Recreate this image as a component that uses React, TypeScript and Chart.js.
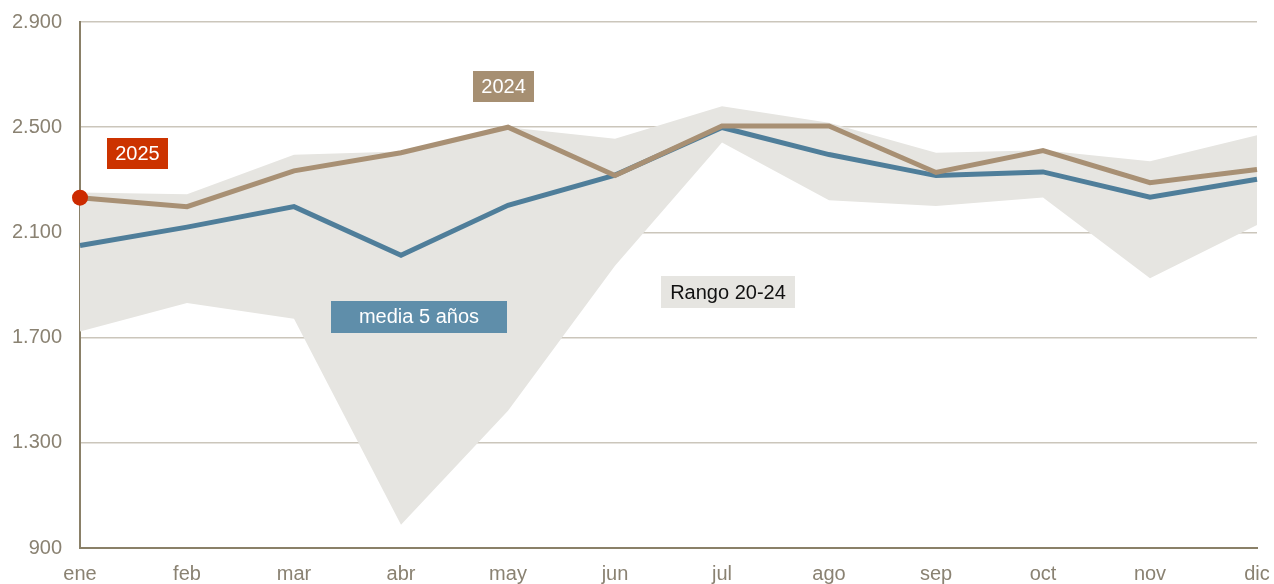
import React, { useEffect, useRef } from "react";
import { Chart, registerables } from "chart.js";

Chart.register(...registerables);

const months = ["ene", "feb", "mar", "abr", "may", "jun", "jul", "ago", "sep", "oct", "nov", "dic"];
const serie2025 = [2232, null, null, null, null, null, null, null, null, null, null, null];
const serie2024 = [2232, 2198, 2334, 2403, 2500, 2316, 2505, 2505, 2328, 2411, 2289, 2339];
const media5 = [2050, 2120, 2198, 2013, 2203, 2318, 2499, 2396, 2316, 2330, 2234, 2302];
const rangoMax = [2252, 2245, 2395, 2408, 2500, 2456, 2580, 2517, 2403, 2412, 2371, 2469];
const rangoMin = [1723, 1832, 1772, 988, 1422, 1973, 2442, 2222, 2200, 2233, 1926, 2128];
const yTicks = [900, 1300, 1700, 2100, 2500, 2900];

// text labels anchored in data coordinates (category index, value)
const labelTexts = ["2025", "2024", "media 5 años", "Rango 20-24"];
const labelAtX = [0.537, 3.958, 3.168, 6.056];
const labelAtY = [2400, 2655, 1780, 1873];

const labelStyles = [
  { bg: "#cc3300", color: "#ffffff", w: 61, h: 31 },
  { bg: "#a68f72", color: "#ffffff", w: 61, h: 31 },
  { bg: "#5f8eaa", color: "#ffffff", w: 176, h: 32 },
  { bg: "#e6e5e1", color: "#111111", w: 134, h: 32 },
];

const FONT = "Arial, 'Liberation Sans', sans-serif";

const fmt = (v: number) => {
  const s = String(Math.round(v));
  return s.length > 3 ? s.slice(0, s.length - 3) + "." + s.slice(-3) : s;
};

const labelPlugin = {
  id: "boxLabels",
  afterDatasetsDraw(chart: any) {
    const { ctx } = chart;
    const xs = chart.scales.x;
    const ys = chart.scales.y;
    ctx.save();
    ctx.font = `20px ${FONT}`;
    ctx.textAlign = "center";
    ctx.textBaseline = "middle";
    labelTexts.forEach((t, i) => {
      const st = labelStyles[i];
      const cx = xs.getPixelForValue(labelAtX[i]);
      const cy = ys.getPixelForValue(labelAtY[i]);
      ctx.fillStyle = st.bg;
      ctx.fillRect(Math.round(cx - st.w / 2), Math.round(cy - st.h / 2), st.w, st.h);
      ctx.fillStyle = st.color;
      ctx.fillText(t, cx, cy + 1);
    });
    ctx.restore();
  },
};

export default function App() {
  const ref = useRef<HTMLCanvasElement | null>(null);
  useEffect(() => {
    if (!ref.current) return;
    const chart = new Chart(ref.current, {
      type: "line",
      data: {
        labels: months,
        datasets: [
          {
            label: "2025",
            data: serie2025,
            showLine: false,
            pointRadius: 8,
            pointBackgroundColor: "#cc2a00",
            pointBorderWidth: 0,
            borderColor: "#cc2a00",
            clip: false as any,
          },
          {
            label: "2024",
            data: serie2024,
            borderColor: "#a89074",
            borderWidth: 5,
            pointRadius: 0,
            fill: false,
            clip: false as any,
          },
          {
            label: "media 5 años",
            data: media5,
            borderColor: "#4f7e9a",
            borderWidth: 5,
            pointRadius: 0,
            fill: false,
            clip: false as any,
          },
          {
            label: "max",
            data: rangoMax,
            borderWidth: 0,
            borderColor: "rgba(0,0,0,0)",
            backgroundColor: "#e6e5e1",
            pointRadius: 0,
            fill: "+1",
          },
          {
            label: "min",
            data: rangoMin,
            borderWidth: 0,
            borderColor: "rgba(0,0,0,0)",
            pointRadius: 0,
            fill: false,
          },
        ],
      },
      options: {
        responsive: false,
        animation: false,
        layout: { padding: { left: 0, right: 17, top: 22, bottom: 0 } },
        plugins: { legend: { display: false }, tooltip: { enabled: false } },
        elements: { line: { tension: 0 } },
        scales: {
          x: {
            offset: false,
            grid: { display: false, drawTicks: false },
            border: { display: true, color: "#8a8068", width: 2, z: 1 },
            ticks: {
              color: "#8a8272",
              font: { size: 20, family: FONT },
              padding: 14,
              maxRotation: 0,
              autoSkip: false,
            },
            afterFit: (s: any) => {
              s.height = 36;
              s.paddingLeft = 0;
              s.paddingRight = 0;
            },
          },
          y: {
            min: 900,
            max: 2900,
            afterBuildTicks: (s: any) => {
              s.ticks = yTicks.map((v) => ({ value: v }));
            },
            grid: {
              drawTicks: false,
              color: (c: any) => (c.tick && c.tick.value === 900 ? "rgba(0,0,0,0)" : "#cbc6bb"),
              lineWidth: 1.5,
            },
            border: { display: true, color: "#8a8068", width: 2 },
            ticks: {
              color: "#8a8272",
              font: { size: 20, family: FONT },
              padding: 18,
              callback: (v: any) => fmt(Number(v)),
            },
            afterFit: (s: any) => {
              s.width = 80;
              s.paddingTop = 0;
              s.paddingBottom = 0;
            },
          },
        },
      },
      plugins: [labelPlugin],
    });
    return () => chart.destroy();
  }, []);

  return (
    <div style={{ position: "absolute", left: 0, top: 0, width: 1274, height: 584, background: "#fff" }}>
      <canvas ref={ref} width={1274} height={584} style={{ display: "block" }} />
    </div>
  );
}
